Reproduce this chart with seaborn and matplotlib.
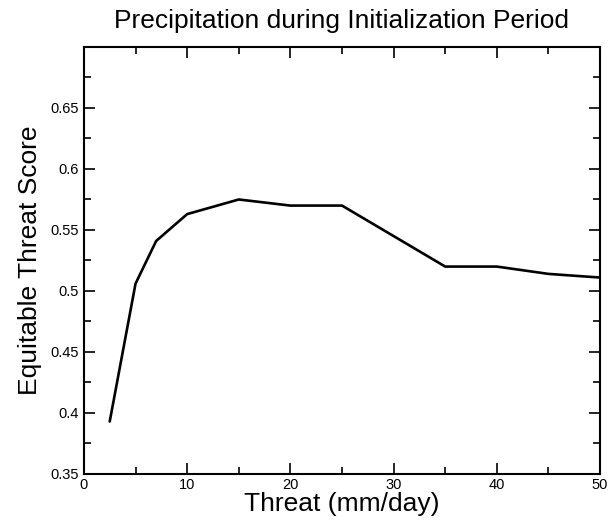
import numpy as np
import matplotlib.pyplot as plt
import seaborn as sns
from matplotlib.ticker import MultipleLocator

# Equitable threat score vs threshold
threat = [2.5, 5, 7, 10, 15, 20, 25, 30, 35, 40, 45, 50]
ets = [0.393, 0.506, 0.541, 0.563, 0.575, 0.570, 0.570, 0.545, 0.520, 0.520, 0.514, 0.511]

sns.set_style("white")
plt.rcParams['font.family'] = ['Liberation Sans', 'DejaVu Sans']
plt.rcParams['text.color'] = 'black'
plt.rcParams['axes.labelcolor'] = 'black'

fig = plt.figure(figsize=(6.08, 5.22), dpi=100)
ax = fig.add_axes([0.138, 0.092, 0.849, 0.818])

sns.lineplot(x=threat, y=ets, ax=ax, color="black", linewidth=1.9)

ax.set_xlim(0, 50)
ax.set_ylim(0.35, 0.7)
ax.xaxis.set_minor_locator(MultipleLocator(5))
ax.yaxis.set_minor_locator(MultipleLocator(0.025))

ax.set_yticks([0.35, 0.4, 0.45, 0.5, 0.55, 0.6, 0.65])
ax.set_yticklabels(["0.35", "0.4", "0.45", "0.5", "0.55", "0.6", "0.65"])
ax.set_xticks([0, 10, 20, 30, 40, 50])
ax.set_xticklabels(["0", "10", "20", "30", "40", "50"])

ax.tick_params(which="both", direction="in", top=True, right=True, left=True, bottom=True,
               width=1.2, labelsize=10.5, colors="black")
ax.tick_params(which="major", length=8)
ax.tick_params(which="minor", length=5)
ax.tick_params(axis="x", pad=3)

for s in ax.spines.values():
    s.set_linewidth(1.5)
    s.set_color("black")

ax.set_title("Precipitation during Initialization Period", fontsize=19, pad=14)
ax.set_xlabel("Threat (mm/day)", fontsize=19, labelpad=0)
ax.set_ylabel("Equitable Threat Score", fontsize=19, labelpad=6)

plt.savefig("out.png", dpi=100)
